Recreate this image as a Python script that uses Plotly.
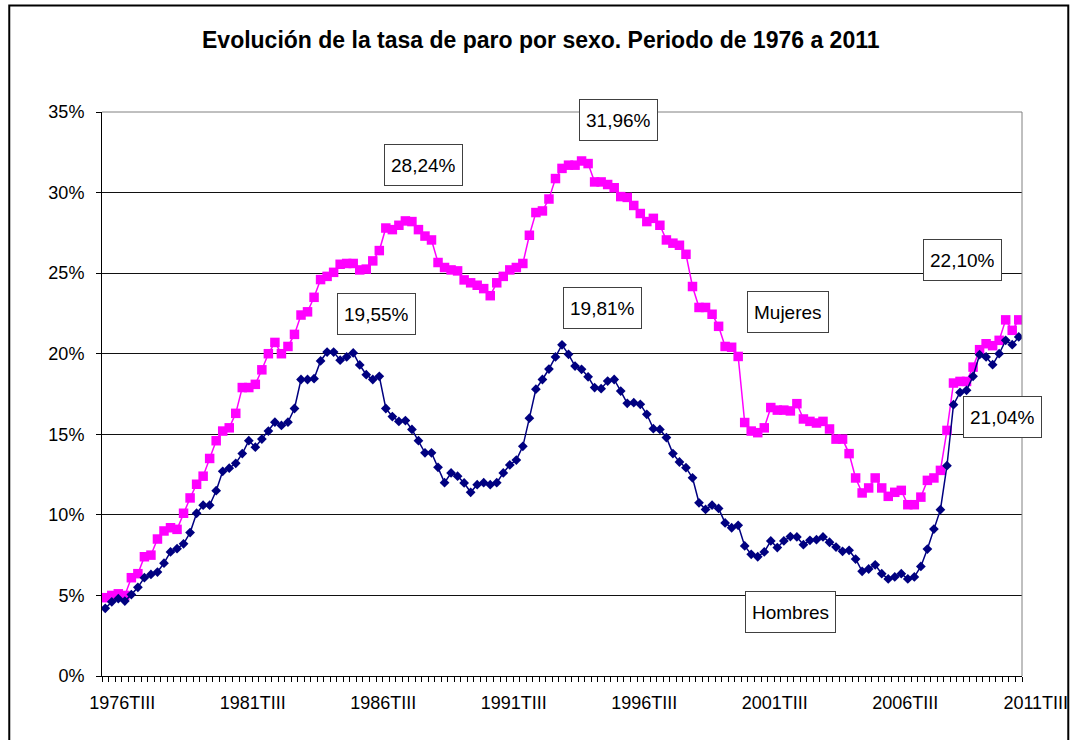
import plotly.graph_objects as go

# ---- Data -------------------------------------------------------------
roman = ["I", "II", "III", "IV"]
quarters = []
for year in range(1976, 2012):
    for q in range(4):
        if (year == 1976 and q < 2) or (year == 2011 and q > 2):
            continue
        quarters.append(f"{year}T{roman[q]}")

tick_labels = ["1976TIII", "1981TIII", "1986TIII", "1991TIII",
               "1996TIII", "2001TIII", "2006TIII", "2011TIII"]

mujeres = [
    4.86, 5.0, 5.1, 5.0, 6.1, 6.35, 7.4, 7.5, 8.5, 9.0,
    9.2, 9.1, 10.1, 11.05, 11.9, 12.4, 13.5, 14.6, 15.2, 15.4,
    16.3, 17.9, 17.9, 18.1, 19.0, 20.0, 20.7, 20.0, 20.45, 21.2,
    22.4, 22.6, 23.5, 24.6, 24.8, 25.05, 25.55, 25.6, 25.6, 25.2,
    25.25, 25.76, 26.4, 27.8, 27.7, 27.97, 28.24, 28.2, 27.7, 27.3,
    27.06, 25.66, 25.35, 25.2, 25.14, 24.58, 24.4, 24.25, 24.04, 23.6,
    24.4, 24.8, 25.2, 25.35, 25.6, 27.35, 28.76, 28.86, 29.6, 30.87,
    31.5, 31.7, 31.7, 31.96, 31.8, 30.66, 30.66, 30.5, 30.3, 29.75,
    29.7, 29.2, 28.7, 28.2, 28.4, 27.97, 27.06, 26.86, 26.73, 26.17,
    24.17, 22.87, 22.87, 22.45, 21.7, 20.45, 20.4, 19.83, 15.73, 15.2,
    15.1, 15.4, 16.66, 16.5, 16.5, 16.45, 16.9, 15.95, 15.8, 15.7,
    15.8, 15.33, 14.7, 14.7, 13.8, 12.29, 11.36, 11.67, 12.29, 11.67,
    11.15, 11.4, 11.52, 10.63, 10.63, 11.1, 12.14, 12.29, 12.76, 15.24,
    18.18, 18.28, 18.28, 19.17, 20.25, 20.62, 20.5, 20.83, 22.1, 21.45,
    22.10,
]

hombres = [
    4.2, 4.6, 4.8, 4.65, 5.05, 5.5, 6.1, 6.3, 6.45, 7.0,
    7.7, 7.9, 8.2, 8.9, 10.1, 10.6, 10.6, 11.5, 12.7, 12.9,
    13.2, 13.8, 14.6, 14.2, 14.7, 15.2, 15.75, 15.55, 15.75, 16.6,
    18.4, 18.4, 18.45, 19.55, 20.1, 20.1, 19.6, 19.8, 20.05, 19.3,
    18.7, 18.4, 18.6, 16.6, 16.1, 15.8, 15.85, 15.3, 14.6, 13.85,
    13.85, 12.95, 12.0, 12.6, 12.4, 11.98, 11.4, 11.87, 12.0, 11.87,
    12.0, 12.6, 13.1, 13.4, 14.25, 16.0, 17.8, 18.4, 19.05, 19.8,
    20.55, 19.96, 19.23, 19.03, 18.57, 17.9, 17.83, 18.3, 18.4, 17.68,
    16.92, 16.96, 16.86, 16.24, 15.35, 15.3, 14.8, 13.8, 13.28, 12.93,
    12.3, 10.75, 10.34, 10.6, 10.4, 9.5, 9.2, 9.35, 8.07, 7.55,
    7.4, 7.7, 8.38, 7.97, 8.38, 8.65, 8.63, 8.15, 8.42, 8.46,
    8.63, 8.3, 8.0, 7.74, 7.8, 7.26, 6.5, 6.64, 6.9, 6.35,
    6.02, 6.15, 6.35, 6.02, 6.15, 6.8, 7.88, 9.12, 10.32, 13.05,
    16.84, 17.6, 17.73, 18.6, 19.94, 19.8, 19.32, 20.0, 20.83, 20.56,
    21.04,
]

y_ticks = [0, 5, 10, 15, 20, 25, 30, 35]
y_tick_labels = ["0%", "5%", "10%", "15%", "20%", "25%", "30%", "35%"]

# callout labels: (text, paper x, paper y)
callouts = [
    ("28,24%", 0.3498, 0.9052),
    ("31,96%", 0.5612, 0.9853),
    ("19,55%", 0.2987, 0.6423),
    ("19,81%", 0.5435, 0.6517),
    ("Mujeres", 0.7460, 0.6452),
    ("Hombres", 0.7482, 0.1129),
    ("22,10%", 0.9354, 0.7382),
    ("21,04%", 0.9786, 0.4599),
]

FONT = "Arial, 'Liberation Sans', sans-serif"

# ---- Figure -----------------------------------------------------------
fig = go.Figure()

fig.add_trace(go.Scatter(
    x=quarters, y=mujeres, name="Mujeres", mode="lines+markers",
    line=dict(color="#FF00FF", width=1.5),
    marker=dict(symbol="square", size=9.5, color="#FF00FF", line=dict(width=0)),
))
fig.add_trace(go.Scatter(
    x=quarters, y=hombres, name="Hombres", mode="lines+markers",
    line=dict(color="#000080", width=1.5),
    marker=dict(symbol="diamond", size=7.5, color="#000080", line=dict(width=0)),
))

ticktext = [q if q in tick_labels else "" for q in quarters]

fig.update_layout(
    template="none",
    width=1073, height=740,
    margin=dict(l=102, r=51, t=112, b=64, pad=0),
    paper_bgcolor="white", plot_bgcolor="white",
    showlegend=False,
    font=dict(family=FONT, color="black", size=18),
    xaxis=dict(
        type="category",
        range=[-0.5, len(quarters) - 0.5],
        tickmode="array", tickvals=quarters, ticktext=ticktext,
        tickson="boundaries", ticks="outside", ticklen=5, tickwidth=1,
        tickcolor="black", tickangle=0, ticklabelshift=17,
        ticklabelstandoff=10,
        tickfont=dict(family=FONT, size=18, color="black"),
        showline=True, linecolor="black", linewidth=1,
        showgrid=False, zeroline=False, automargin=False,
    ),
    yaxis=dict(
        range=[0, 35], tickmode="array", tickvals=y_ticks,
        ticktext=y_tick_labels, ticks="outside", ticklen=5, tickwidth=1,
        tickcolor="black", ticklabelstandoff=8,
        tickfont=dict(family=FONT, size=18, color="black"),
        showline=True, linecolor="black", linewidth=1,
        showgrid=True, gridcolor="#111111", gridwidth=1,
        zeroline=False, automargin=False,
    ),
)

# plot-area top/right border (grey)
fig.add_shape(type="line", xref="paper", yref="paper", x0=0, x1=1, y0=1, y1=1,
              line=dict(color="#808080", width=1), layer="above")
fig.add_shape(type="line", xref="paper", yref="paper", x0=1, x1=1, y0=0, y1=1,
              line=dict(color="#808080", width=1), layer="above")

# outer chart border
fig.add_shape(type="rect", xref="paper", yref="paper",
              x0=-0.1008, x1=1.0503, y0=-0.2, y1=1.1888,
              line=dict(color="black", width=2), fillcolor="rgba(0,0,0,0)",
              layer="above")

# title
fig.add_annotation(
    text="<b>Evolución de la tasa de paro por sexo. Periodo de 1976 a 2011</b>",
    xref="paper", yref="paper", x=0.4772, y=1.1277,
    xanchor="center", yanchor="middle", showarrow=False,
    font=dict(family=FONT, size=23, color="black"),
)

for text, px, py in callouts:
    fig.add_annotation(
        text=text, xref="paper", yref="paper", x=px, y=py,
        xanchor="center", yanchor="middle", showarrow=False,
        font=dict(family=FONT, size=19, color="black"),
        bgcolor="white", bordercolor="#404040", borderwidth=1,
        borderpad=6, height=28,
    )

fig.write_html(
    "out.html",
    config={"displayModeBar": False},
    post_script="document.body.style.margin='0px';"
                "document.body.style.overflow='hidden';",
)
